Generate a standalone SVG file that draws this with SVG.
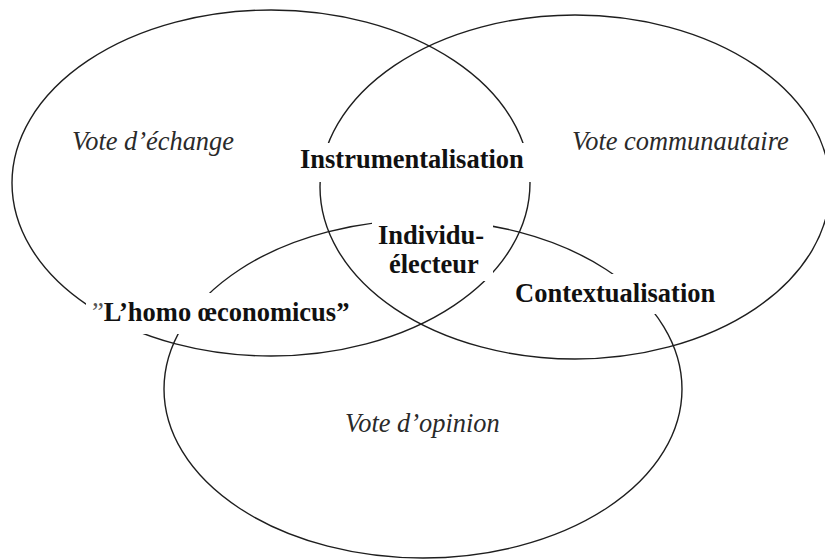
<svg xmlns="http://www.w3.org/2000/svg" width="825" height="559" viewBox="0 0 825 559">
<style>
.set{fill:none;stroke:#1e1e1e;stroke-width:1.4}
.mask{fill:#fff;stroke:none}
.it{font-family:"Liberation Serif","Times New Roman",serif;font-style:italic;font-size:26.4px;fill:#2a2a2a}
.bd{font-family:"Liberation Serif","Times New Roman",serif;font-weight:bold;font-size:26.5px;fill:#111}
</style>
<rect width="825" height="559" fill="#fff"/>
<g id="sets">
<ellipse id="set-echange" class="set" cx="271" cy="183" rx="259" ry="173"/>
<ellipse id="set-communautaire" class="set" cx="575" cy="187" rx="255" ry="172"/>
<ellipse id="set-opinion" class="set" cx="423" cy="389" rx="259" ry="169"/>
</g>
<g id="label-echange"><text class="it" x="72" y="150">Vote d’échange</text></g>
<g id="label-communautaire"><text class="it" x="572" y="150">Vote communautaire</text></g>
<g id="label-opinion"><text class="it" x="345" y="432">Vote d’opinion</text></g>
<g id="instrumentalisation">
<rect class="mask" x="295" y="143" width="236" height="39"/>
<text class="bd" x="300" y="168">Instrumentalisation</text>
</g>
<g id="individu-electeur">
<rect class="mask" x="372" y="218" width="121" height="63"/>
<text class="bd" x="378" y="244">Individu-</text>
<text class="bd" x="389" y="273">électeur</text>
</g>
<g id="contextualisation">
<rect class="mask" x="508" y="274" width="214" height="40"/>
<text class="bd" x="515" y="302">Contextualisation</text>
</g>
<g id="homo-oeconomicus">
<rect class="mask" x="86" y="293" width="272" height="41"/>
<text class="bd" x="92" y="321"><tspan font-weight="normal" fill="#555">”</tspan>L’homo œconomicus”</text>
</g>
</svg>
